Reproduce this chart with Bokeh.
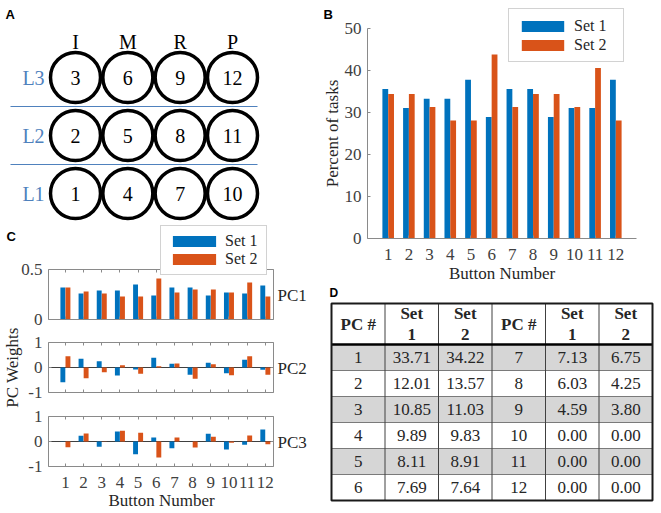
import math
from bokeh.plotting import figure
from bokeh.layouts import row, column
from bokeh.models import (ColumnDataSource, Label, Legend, LegendItem, FixedTicker,
                          LinearAxis, Range1d)
from bokeh.core.properties import value
from bokeh.embed import file_html
from bokeh.resources import INLINE

# ---------------- data ----------------
buttons = [1, 2, 3, 4, 5, 6, 7, 8, 9, 10, 11, 12]
fingers = ["I", "M", "R", "P"]
levels = ["L1", "L2", "L3"]

set1_pct = [35.6, 31.1, 33.3, 33.3, 37.8, 28.9, 35.6, 35.6, 28.9, 31.1, 31.1, 37.8]
set2_pct = [34.4, 34.4, 31.3, 28.1, 28.1, 43.8, 31.3, 34.4, 34.4, 31.3, 40.6, 28.1]

pc1_set1 = [0.32, 0.26, 0.29, 0.29, 0.35, 0.24, 0.32, 0.32, 0.24, 0.27, 0.26, 0.34]
pc1_set2 = [0.32, 0.28, 0.26, 0.23, 0.23, 0.41, 0.27, 0.30, 0.30, 0.27, 0.37, 0.23]
pc2_set1 = [-0.59, 0.35, 0.25, -0.32, -0.08, 0.39, 0.15, -0.29, 0.19, -0.23, 0.31, -0.09]
pc2_set2 = [0.45, -0.43, -0.19, 0.09, -0.25, 0.05, 0.16, -0.45, 0.13, -0.31, 0.45, -0.29]
pc3_set1 = [-0.01, 0.23, -0.21, 0.40, -0.51, 0.16, -0.27, 0.0, 0.31, -0.32, -0.13, 0.48]
pc3_set2 = [-0.23, 0.32, 0.01, 0.43, 0.35, -0.64, 0.16, -0.24, 0.19, -0.05, 0.24, -0.11]

pc_num = [1, 2, 3, 4, 5, 6, 7, 8, 9, 10, 11, 12]
var_set1 = [33.71, 12.01, 10.85, 9.89, 8.11, 7.69, 7.13, 6.03, 4.59, 0.00, 0.00, 0.00]
var_set2 = [34.22, 13.57, 11.03, 9.83, 8.91, 7.64, 6.75, 4.25, 3.80, 0.00, 0.00, 0.00]

# ---------------- style ----------------
SERIF = "Liberation Serif"
SANS = "Liberation Sans"
BLUE = "#0072BD"
ORANGE = "#D95319"
AXC = "#8a8a8a"
TICKTXT = "#404040"
DARK = "#262626"
LBLUE = "#4f81bd"


class Geo:
    """Figure occupying page box (pl,pt)-(pr,pb); the pixel box `box`
    corresponds to data ranges bx, by. The frame is the whole figure."""
    def __init__(self, pl, pt, pr, pb, box, bx, by):
        self.pl, self.pt, self.pr, self.pb = pl, pt, pr, pb
        self.bl, self.bt, self.br, self.bb = box
        self.bx, self.by = bx, by
        self.sx = (bx[1] - bx[0]) / (self.br - self.bl)
        self.sy = (by[1] - by[0]) / (self.bb - self.bt)
        self.xr = (self.x(pl), self.x(pr))
        self.yr = (self.y(pb), self.y(pt))

    def x(self, px):
        return self.bx[0] + (px - self.bl) * self.sx

    def y(self, py):
        return self.by[0] + (self.bb - py) * self.sy


def mkfig(g):
    p = figure(width=g.pr - g.pl, height=g.pb - g.pt,
               x_range=Range1d(*g.xr), y_range=Range1d(*g.yr),
               output_backend="svg", toolbar_location=None,
               x_axis_type=None, y_axis_type=None,
               min_border_left=0, min_border_right=0,
               min_border_top=0, min_border_bottom=0)
    p.outline_line_color = None
    p.background_fill_color = "white"
    p.border_fill_color = "white"
    try:
        p.frame_align = False
    except Exception:
        pass
    return p


def add_axis(p, side, loc, bounds, ticks, labels=None, show=True, standoff=6, rname=None):
    kw = {}
    if rname is not None:
        kw["y_range_name"] = rname
    ax = LinearAxis(ticker=FixedTicker(ticks=ticks), fixed_location=loc, bounds=bounds, **kw)
    ax.major_tick_in = 3
    ax.major_tick_out = 0
    ax.minor_tick_in = 0
    ax.minor_tick_out = 0
    ax.axis_line_color = AXC
    ax.major_tick_line_color = AXC
    ax.major_label_text_font = SERIF
    ax.major_label_text_color = TICKTXT
    ax.major_label_text_font_size = "17px"
    ax.major_label_standoff = standoff
    if labels is not None:
        ax.major_label_overrides = {t: l for t, l in zip(ticks, labels)}
    if not show:
        ax.major_label_overrides = {t: "" for t in ticks}
        ax.major_label_text_font_size = "0px"
        ax.major_label_standoff = 0
    p.add_layout(ax, side)
    return ax


def lab(p, g, px, py, text, size, bold=False, font=SERIF, align="left",
        baseline="middle", angle=0.0, color=DARK):
    p.add_layout(Label(x=g.x(px), y=g.y(py), text=text, text_font=font,
                       text_font_size=f"{size}px",
                       text_font_style="bold" if bold else "normal",
                       text_align=align, text_baseline=baseline, angle=angle,
                       text_color=color))


W, H, LW, BH = 660, 512, 318, 285

# ---------------- panel A ----------------
gA = Geo(0, 0, LW, 225, (75, 77, 232, 193), (1, 4), (1, 3))
pA = mkfig(gA)
colA = [(b - 1) // 3 + 1 for b in buttons]
rowA = [(b - 1) % 3 + 1 for b in buttons]
srcA = ColumnDataSource(dict(x=colA, y=rowA, t=[str(b) for b in buttons]))
sep_y = [lv + 0.5 for lv in range(1, len(levels))]
pA.segment(x0=[gA.x(10)] * len(sep_y), x1=[gA.x(257)] * len(sep_y), y0=sep_y, y1=sep_y,
           line_color=LBLUE, line_width=1.2)
pA.scatter(x="x", y="y", source=srcA, marker="circle", size=50, fill_color="white",
           line_color="black", line_width=3.5)
pA.text(x="x", y="y", text="t", source=srcA, text_align="center", text_baseline="middle",
        text_font=value(SERIF), text_font_size="20px", text_color="black")
pA.text(x=list(range(1, len(fingers) + 1)), y=[gA.y(41)] * len(fingers), text=fingers,
        text_align="center", text_baseline="middle", text_font=value(SERIF),
        text_font_size="20px", text_color="black")
pA.text(x=[gA.x(33)] * len(levels), y=list(range(1, len(levels) + 1)), text=levels,
        text_align="center", text_baseline="middle", text_font=value(SERIF),
        text_font_size="20px", text_color=LBLUE)
lab(pA, gA, 5, 14, "A", 13, bold=True, font=SANS, color="black")

# ---------------- panel C (three stacked axes in one figure) ----------------
xC = (0.07, 12.45)
gC1 = Geo(0, 225, LW, H, (48, 269, 273, 319), xC, (0, 0.5))
gC2 = Geo(0, 225, LW, H, (48, 342, 273, 392), xC, (-1, 1))
gC3 = Geo(0, 225, LW, H, (48, 416, 273, 466), xC, (-1, 1))
pC = mkfig(gC1)
pC.extra_y_ranges = {"pc2": Range1d(*gC2.yr), "pc3": Range1d(*gC3.yr)}
pcs = [(gC1, "default", pc1_set1, pc1_set2, "PC1", [0, 0.5], ["0", "0.5"]),
       (gC2, "pc2", pc2_set1, pc2_set2, "PC2", [-1, 0, 1], ["-1", "0", "1"]),
       (gC3, "pc3", pc3_set1, pc3_set2, "PC3", [-1, 0, 1], ["-1", "0", "1"])]
OFF, BW = 0.14, 0.27
legend_renderers = None
for i, (g, rn, s1, s2, name, yt, yl) in enumerate(pcs):
    x0, x1 = g.bx
    y0, y1 = g.by
    rkw = {} if rn == "default" else {"y_range_name": rn}
    src = ColumnDataSource(dict(x1=[b - OFF for b in buttons], x2=[b + OFF for b in buttons],
                                s1=s1, s2=s2))
    if y0 < 0:
        pC.segment(x0=[x0], x1=[x1], y0=[0], y1=[0], line_color="#404040", line_width=1, **rkw)
    r1 = pC.vbar(x="x1", top="s1", bottom=0, width=BW, source=src, fill_color=BLUE,
                 line_color=None, **rkw)
    r2 = pC.vbar(x="x2", top="s2", bottom=0, width=BW, source=src, fill_color=ORANGE,
                 line_color=None, **rkw)
    rname = None if rn == "default" else rn
    add_axis(pC, "left", x0, (y0, y1), yt, yl, standoff=6, rname=rname)
    add_axis(pC, "right", x1, (y0, y1), yt, show=False, rname=rname)
    add_axis(pC, "above", y1, (x0, x1), buttons, show=False, rname=rname)
    add_axis(pC, "below", y0, (x0, x1), buttons, [str(b) for b in buttons],
             show=(i == 2), standoff=10, rname=rname)
    lab(pC, gC1, 277, (g.bt + g.bb) / 2 + 1, name, 17)
    if i == 0:
        legend_renderers = (r1, r2)

legC = Legend(items=[LegendItem(label="Set 1", renderers=[legend_renderers[0]]),
                     LegendItem(label="Set 2", renderers=[legend_renderers[1]])],
              location=(160 - gC1.pl, gC1.pb - 275), orientation="vertical",
              glyph_width=54, glyph_height=14, label_standoff=4, padding=6,
              spacing=0, label_height=18, label_width=35,
              label_text_font=SERIF, label_text_font_size="16px",
              label_text_color=DARK, border_line_color="#a6a6a6",
              border_line_width=1, background_fill_color="white",
              background_fill_alpha=1.0, margin=0)
pC.add_layout(legC)
lab(pC, gC1, 6, 236, "C", 13, bold=True, font=SANS, color="black")
lab(pC, gC1, 12, 367, "PC Weights", 17, align="center", angle=math.pi / 2)
lab(pC, gC1, 161, 500, "Button Number", 17, align="center")

# ---------------- panel B ----------------
gB = Geo(LW, 0, W, BH, (367, 28, 636, 238), (0, 13), (0, 50))
pB = mkfig(gB)
srcB = ColumnDataSource(dict(x1=[b - OFF for b in buttons], x2=[b + OFF for b in buttons],
                             s1=set1_pct, s2=set2_pct))
b1 = pB.vbar(x="x1", top="s1", bottom=0, width=0.28, source=srcB, fill_color=BLUE, line_color=None)
b2 = pB.vbar(x="x2", top="s2", bottom=0, width=0.28, source=srcB, fill_color=ORANGE, line_color=None)
yticksB = [0, 10, 20, 30, 40, 50]
axl = add_axis(pB, "left", 0, (0, 50), yticksB, [str(t) for t in yticksB], standoff=6)
axl.axis_label = "Percent of tasks"
axl.axis_label_standoff = 0
axb = add_axis(pB, "below", 0, (0, 13), buttons, [str(b) for b in buttons], standoff=10)
axb.axis_label = "Button Number"
axb.axis_label_standoff = 1
for ax in (axl, axb):
    ax.axis_label_text_font = SERIF
    ax.axis_label_text_font_size = "17px"
    ax.axis_label_text_font_style = "normal"
    ax.axis_label_text_color = DARK
legB = Legend(items=[LegendItem(label="Set 1", renderers=[b1]),
                     LegendItem(label="Set 2", renderers=[b2])],
              location=(508 - gB.pl, gB.pb - 62), orientation="vertical",
              glyph_width=53, glyph_height=14, label_standoff=5, padding=7,
              spacing=0, label_height=19, label_width=42,
              label_text_font=SERIF, label_text_font_size="16px",
              label_text_color=DARK, border_line_color="#a6a6a6",
              border_line_width=1, background_fill_color="white",
              background_fill_alpha=1.0, margin=0)
pB.add_layout(legB)
lab(pB, gB, 323, 14, "B", 13, bold=True, font=SANS, color="black")

# ---------------- panel D (table) ----------------
nrows = 6
RH, HDR = 26.0, 41.0
hdr_top = nrows + HDR / RH
gD = Geo(LW, BH, W, H, (331, 303, 652, 500), (0, 6), (0, hdr_top))
pD = mkfig(gD)
row_y = [nrows - i - 0.5 for i in range(nrows)]
shade_y = [row_y[i] for i in range(0, nrows, 2)]
pD.rect(x=[3] * len(shade_y), y=shade_y, width=6, height=1, fill_color="#d6d6d6", line_color=None)
pD.segment(x0=[0] * (nrows - 1), x1=[6] * (nrows - 1), y0=list(range(1, nrows)),
           y1=list(range(1, nrows)), line_color="#7a7a7a", line_width=1)
pD.segment(x0=list(range(1, 6)), x1=list(range(1, 6)), y0=[0] * 5, y1=[hdr_top] * 5,
           line_color="#404040", line_width=1)
pD.segment(x0=[0], x1=[6], y0=[nrows], y1=[nrows], line_color="black", line_width=2.5)
pD.quad(left=[0], right=[6], bottom=[0], top=[hdr_top], fill_color=None,
        line_color="#1a1a1a", line_width=2)
hdr_y = (nrows + hdr_top) / 2
hdr_txt = ["PC #", "Set\n1", "Set\n2", "PC #", "Set\n1", "Set\n2"]
pD.text(x=[c + 0.5 for c in range(6)], y=[hdr_y] * 6, text=hdr_txt, text_align="center",
        text_baseline="middle", text_font=value(SERIF), text_font_size="17px",
        text_font_style="bold", text_color=DARK, text_line_height=1.12)
cx, cy, ct = [], [], []
for i in range(nrows):
    for half in range(2):
        k = i + half * nrows
        base = half * 3
        cx += [base + 0.5, base + 1.5, base + 2.5]
        cy += [row_y[i]] * 3
        ct += [str(pc_num[k]), f"{var_set1[k]:.2f}", f"{var_set2[k]:.2f}"]
pD.text(x=cx, y=cy, text=ct, text_align="center", text_baseline="middle",
        text_font=value(SERIF), text_font_size="17px", text_color=DARK)
lab(pD, gD, 329, 292, "D", 12, bold=True, font=SANS, color="black")

layout = row(column(pA, pC), column(pB, pD))
open("out.html", "w").write(file_html(layout, INLINE))
